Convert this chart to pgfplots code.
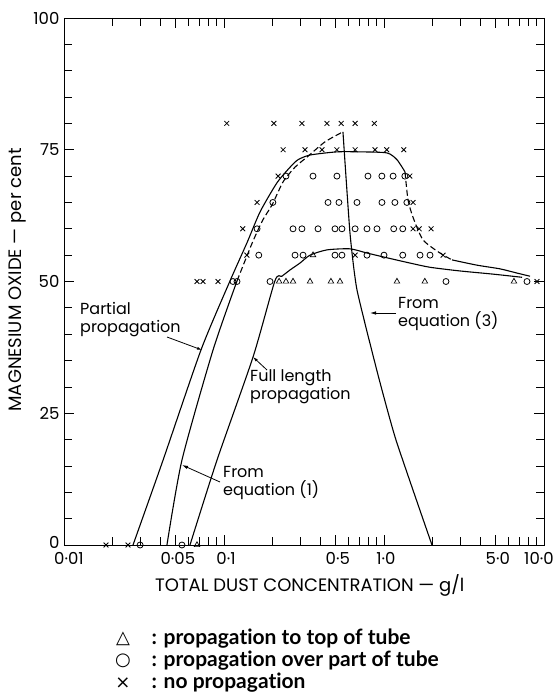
\documentclass[border=0pt]{standalone}
\usepackage{pgfplots}
\pgfplotsset{compat=1.18}
\usepackage{fontspec}
\setmainfont{Poppins}
\newfontfamily\legfont[Ligatures=NoCommon]{Lato}
\newfontfamily\symfont{DejaVu Sans}
\usetikzlibrary{arrows.meta}
\begin{document}
\begin{tikzpicture}
\useasboundingbox (-64pt,-149pt) rectangle (495pt,545pt);
\begin{axis}[
  at={(0,0)}, anchor=south west,
  scale only axis, width=480pt, height=527pt,
  xmode=log, xmin=0.01, xmax=10, ymin=0, ymax=100,
  xtick={0.01,0.05,0.1,0.5,1,5,10},
  xticklabels={\hspace*{6pt}0·01,0·05,0·1,0·5,1·0,5·0,\hspace*{-14pt}10·0},
  minor xtick={0.02,0.03,0.04,0.06,0.07,0.08,0.09,0.2,0.3,0.4,0.6,0.7,0.8,0.9,2,3,4,6,7,8,9},
  ytick={0,25,50,75,100}, yticklabels={\raisebox{6pt}{0},25,50,75,100},
  minor ytick={5,10,15,20,30,35,40,45,55,60,65,70,80,85,90,95},
  tick align=inside, major tick length=10pt, minor tick length=8pt,
  tick style={black, line width=0.8pt},
  axis line style={line width=0.9pt},
  ticklabel style={font=\fontsize{16.5}{18}\selectfont},
  xticklabel style={yshift=-4pt, xshift=2pt},
  yticklabel style={xshift=-1pt},
  label style={font=\fontsize{18}{20}\selectfont},
  xlabel={TOTAL DUST CONCENTRATION — g/l},
  ylabel={MAGNESIUM OXIDE — per cent},
  xlabel style={at={(axis description cs:0.512,-0.076)}, anchor=center},
  ylabel style={at={(axis description cs:-0.096,0.503)}, anchor=center},
  clip=false,
]
% no propagation
\addplot[only marks, mark=x, mark size=3.4pt, line width=0.8pt] coordinates {
(0.104,80) (0.205,80) (0.307,80) (0.44,80) (0.54,80) (0.66,80) (0.87,80)
(0.234,75) (0.321,75) (0.41,75) (0.508,75) (0.66,75) (0.879,75) (1.04,75) (1.33,75)
(0.218,70) (1.45,70)
(0.161,65) (1.52,65)
(0.131,60) (1.52,60) (1.66,60) (1.97,60)
(0.139,55) (0.66,55) (2.34,55)
(0.0678,50) (0.0739,50) (0.0917,50) (9.04,50)
(0.0183,0) (0.0251,0)
};
% propagation over part of tube
\addplot[only marks, mark=o, mark size=3pt, line width=0.8pt] coordinates {
(0.244,70) (0.36,70) (0.508,70) (0.794,70) (0.97,70) (1.14,70) (1.35,70)
(0.202,65) (0.447,65) (0.523,65) (0.678,65) (0.971,65) (1.17,65) (1.39,65)
(0.161,60) (0.27,60) (0.307,60) (0.387,60) (0.494,60) (0.546,60) (0.66,60) (0.783,60) (0.904,60) (1.15,60) (1.31,60)
(0.165,55) (0.278,55) (0.312,55) (0.494,55) (0.546,55) (0.783,55) (1.0,55) (1.31,55) (1.68,55) (1.94,55)
(0.1138,50) (0.1206,50) (0.194,50) (2.44,50) (7.83,50)
(0.0299,0) (0.0546,0)
};
% propagation to top of tube
\addplot[only marks, mark=triangle, mark size=3.2pt, line width=0.7pt] coordinates {
(0.36,55)
(0.221,50) (0.244,50) (0.27,50) (0.345,50) (0.466,50) (0.531,50) (1.205,50) (1.8,50) (6.49,50)
(0.0678,0)
};
% partial propagation boundary
\addplot[black, line width=1.1pt, smooth, tension=0.4] coordinates {
(0.0270,0) (0.0416,16.1) (0.0718,37.0) (0.109,50.1) (0.139,57.3) (0.168,63.2) (0.214,68.7)
(0.259,71.7) (0.290,73.1) (0.345,74.0) (0.508,74.6) (0.708,74.6) (1.044,74.4) (1.206,73.1) (1.353,70.8)
};
\addplot[black, line width=1.1pt, smooth, tension=0.4, dash pattern=on 6pt off 3pt] coordinates {
(1.353,70.8) (1.413,65.5) (1.518,62.2) (1.753,57.9) (2.239,55.4) (2.661,54.1)
};
\addplot[black, line width=1.1pt, smooth, tension=0.4] coordinates {
(2.661,54.1) (3.812,53.1) (5.309,52.4) (6.78,51.6) (8.18,51.0)
};
% from equation (1)
\addplot[black, line width=1.1pt, smooth, tension=0.4] coordinates {
(0.0440,0) (0.0546,16.1) (0.0854,37.0) (0.1206,50.1)
};
\addplot[black, line width=1.1pt, smooth, tension=0.4, dash pattern=on 6pt off 3pt] coordinates {
(0.1206,50.1) (0.150,57.3) (0.175,61.7) (0.1995,64.5) (0.234,68.9) (0.278,71.7) (0.330,73.6) (0.428,76.5) (0.554,78.4)
};
% from equation (3)
\addplot[black, line width=1.1pt, smooth, tension=0.3] coordinates {
(0.554,78.4) (0.613,59.2) (0.678,48.4) (0.917,32.3) (1.189,19.9) (1.995,0)
};
% full length propagation boundary
\addplot[black, line width=1.1pt, smooth, tension=0.4] coordinates {
(0.0613,0) (0.0904,16.1) (0.152,35.7) (0.208,50.1) (0.230,51.0) (0.259,52.2) (0.2985,53.5)
(0.345,55.0) (0.440,56.0) (0.613,56.2) (0.783,55.4) (1.044,54.5) (1.454,53.5) (1.939,52.7)
(2.985,52.0) (4.80,51.4) (7.29,50.8)
};
\end{axis}
% annotations
\begin{scope}[font=\fontsize{16}{18}\selectfont]
\node[anchor=west, align=left, inner sep=0pt] at (16pt,225pt) {Partial\\propagation};
\node[anchor=west, align=left, inner sep=0pt] at (186pt,158pt) {Full length\\propagation};
\node[anchor=west, align=left, inner sep=0pt] at (334pt,231pt) {From\\equation (3)};
\node[anchor=west, align=left, inner sep=0pt] at (159pt,62pt) {From\\equation (1)};
\end{scope}
\draw[line width=0.8pt, -{Latex[length=5pt,width=3pt]}] (103pt,208pt) -- (138pt,195pt);
\draw[line width=0.8pt, -{Latex[length=5pt,width=3pt]}] (203pt,175pt) -- (189pt,188pt);
\draw[line width=0.8pt, -{Latex[length=6pt,width=3.5pt]}] (332pt,232pt) -- (306pt,232pt);
\draw[line width=0.8pt, -{Latex[length=6pt,width=3.5pt]}] (156pt,63pt) -- (118pt,80pt);
% key
\begin{scope}[font=\legfont\bfseries\fontsize{21}{23}\selectfont]
\node[anchor=center, font=\symfont\fontsize{18}{20}\selectfont] at (59pt,-94pt) {△};
\node[anchor=center, font=\symfont\fontsize{18}{20}\selectfont] at (59pt,-116pt) {○};
\node[anchor=center, font=\symfont\fontsize{18}{20}\selectfont] at (59pt,-138pt) {×};
\node[anchor=west] at (84pt,-94pt) {: propagation to top of tube};
\node[anchor=west] at (84pt,-116pt) {: propagation over part of tube};
\node[anchor=west] at (84pt,-138pt) {: no propagation};
\end{scope}
\end{tikzpicture}
\end{document}
